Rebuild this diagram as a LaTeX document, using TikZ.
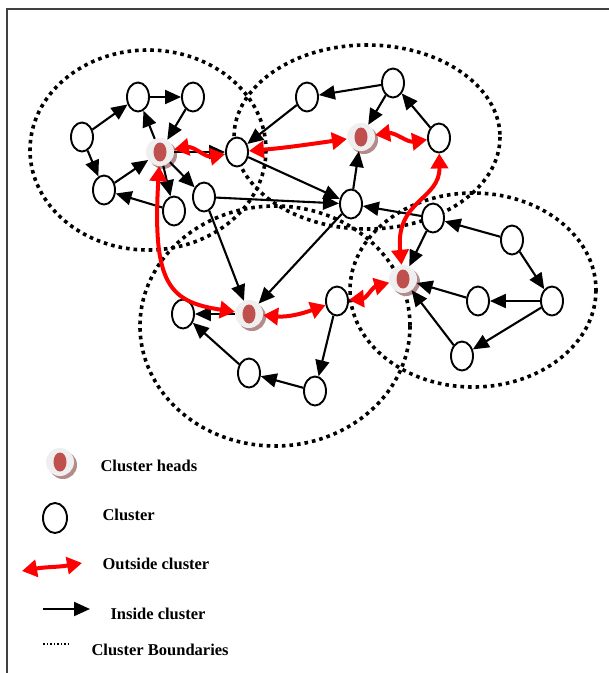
\documentclass[tikz,border=0pt]{standalone}
\usepackage{fontspec}
\setmainfont{Liberation Serif}
\usetikzlibrary{arrows.meta,shapes.geometric,shadows}
\definecolor{headred}{HTML}{C0504D}
\definecolor{headring}{HTML}{EFEFEF}
\definecolor{headshade}{HTML}{B48A8A}

\tikzset{
  member/.style={draw, ellipse, line width=1.9pt, fill=white, inner sep=0pt,
    minimum width=22pt, minimum height=29pt},
  head/.style={circle, fill=headring, inner sep=0pt, minimum size=28pt,
    drop shadow={shadow xshift=3pt, shadow yshift=-3pt, fill=headshade, opacity=1},
    path picture={\fill[headred] (path picture bounding box.center)
      ellipse [x radius=6.5pt, y radius=9.5pt];}},
  inarrow/.style={-{Triangle[length=16pt,width=14pt]}, line width=2.1pt},
  outarrow/.style={{Triangle[length=15pt,width=17pt]}-{Triangle[length=15pt,width=17pt]},
    draw=red, line width=4pt},
  boundary/.style={line width=3.6pt, dash pattern=on 3.6pt off 4pt},
  legendtext/.style={anchor=west, font=\fontsize{16.5}{18}\selectfont\bfseries}
}

\begin{document}
\begin{tikzpicture}[x=1pt, y=-1pt]
  \useasboundingbox (0,0) rectangle (609,673);
  \draw[line width=2pt, black!75] (7,673) -- (7,9) -- (609,9);

  %%boundaries
  \draw[boundary] (148,150) ellipse [x radius=118, y radius=100];
  \draw[boundary] (367,137) ellipse [x radius=133, y radius=92];
  \draw[boundary] (275,326) ellipse [x radius=135, y radius=120];
  \draw[boundary] (473,290) ellipse [x radius=123, y radius=97];

  %%c1
  \node[head] (ch1) at (160,152) {};
  \node[member] (n11) at (82,137) {};
  \node[member] (n12) at (138,97) {};
  \node[member] (n13) at (193,97) {};
  \node[member] (n14) at (104,190) {};
  \node[member] (n15) at (174,211) {};
  \node[member] (n16) at (204,197) {};
  \node[member] (n17) at (237,152) {};
  %%c2
  \node[head] (ch2) at (361,137) {};
  \node[member] (n21) at (307,97) {};
  \node[member] (n22) at (393,83) {};
  \node[member] (n23) at (439,138) {};
  \node[member] (n24) at (351,204) {};
  %%c3
  \node[head] (ch3) at (249,314) {};
  \node[member] (n31) at (183,314) {};
  \node[member] (n32) at (249,373) {};
  \node[member] (n33) at (315,391) {};
  \node[member] (n34) at (337,301) {};
  %%c4
  \node[head] (ch4) at (403,279) {};
  \node[member] (n41) at (433,218) {};
  \node[member] (n42) at (512,240) {};
  \node[member] (n43) at (552,301) {};
  \node[member] (n44) at (478,301) {};
  \node[member] (n45) at (462,356) {};

  %%inside
  \draw[inarrow] (n11) -- (n12);
  \draw[inarrow] (n12) -- (n13);
  \draw[inarrow] (n13) -- (ch1);
  \draw[inarrow] (ch1) -- (n12);
  \draw[inarrow] (n11) -- (n14);
  \draw[inarrow] (n14) -- (ch1);
  \draw[inarrow] (ch1) -- (n15);
  \draw[inarrow] (n15) -- (n14);
  \draw[inarrow] (ch1) -- (n16);
  \draw[inarrow] (ch1) -- (n17);

  \draw[inarrow] (n22) -- (n21);
  \draw[inarrow] (n21) -- (n17);
  \draw[inarrow] (n22) -- (ch2);
  \draw[inarrow] (n23) -- (n22);
  \draw[inarrow] (n24) -- (ch2);
  \draw[inarrow] (n17) -- (n24);
  \draw[inarrow] (n16) -- (n24);
  \draw[inarrow] (n41) -- (n24);
  \draw[inarrow] (n24) -- (ch3);

  \draw[inarrow] (n16) -- (ch3);
  \draw[inarrow] (ch3) -- (n31);
  \draw[inarrow] (n32) -- (n31);
  \draw[inarrow] (n33) -- (n32);
  \draw[inarrow] (n34) -- (n33);

  \draw[inarrow] (n42) -- (n41);
  \draw[inarrow] (n41) -- (ch4);
  \draw[inarrow] (n42) -- (n43);
  \draw[inarrow] (n43) -- (n44);
  \draw[inarrow] (n44) -- (ch4);
  \draw[inarrow] (n43) -- (n45);
  \draw[inarrow] (n45) -- (ch4);

  %%outside
  \draw[outarrow] (ch1) to[out=10, in=190] (n17);
  \draw[outarrow] (n17) to[out=5, in=188] (ch2);
  \draw[outarrow] (ch2) to[out=8, in=188] (n23);
  \draw[outarrow] (ch3) to[out=-5, in=200] (n34);
  \draw[outarrow] (n34) to[out=5, in=195] (ch4);
  \draw[outarrow] (ch1) .. controls (152,285) and (170,302) .. (ch3);
  \draw[outarrow] (n23) .. controls (440,200) and (395,200) .. (ch4);

  %%legend
  \node[head] (lh) at (60,462) {};
  \node[legendtext] (lt1) at (97,466) {Cluster heads};
  \node[member, minimum width=24pt, minimum height=30pt] (lm) at (55,518) {};
  \node[legendtext] (lt2) at (99,515) {Cluster};
  \coordinate (lo1) at (22,571);
  \coordinate (lo2) at (82,563);
  \draw[outarrow] (lo1) to[out=10, in=190] (lo2);
  \node[legendtext] (lt3) at (99,564) {Outside cluster};
  \coordinate (li1) at (43,609);
  \coordinate (li2) at (90,609);
  \draw[inarrow] (li1) -- (li2);
  \node[legendtext] (lt4) at (107,614) {Inside cluster};
  \coordinate (lb1) at (43,644);
  \coordinate (lb2) at (70,644);
  \draw[line width=1.2pt, dash pattern=on 1.5pt off 2pt] (lb1) -- (lb2);
  \node[legendtext] (lt5) at (88,650) {Cluster Boundaries};
\end{tikzpicture}
\end{document}
